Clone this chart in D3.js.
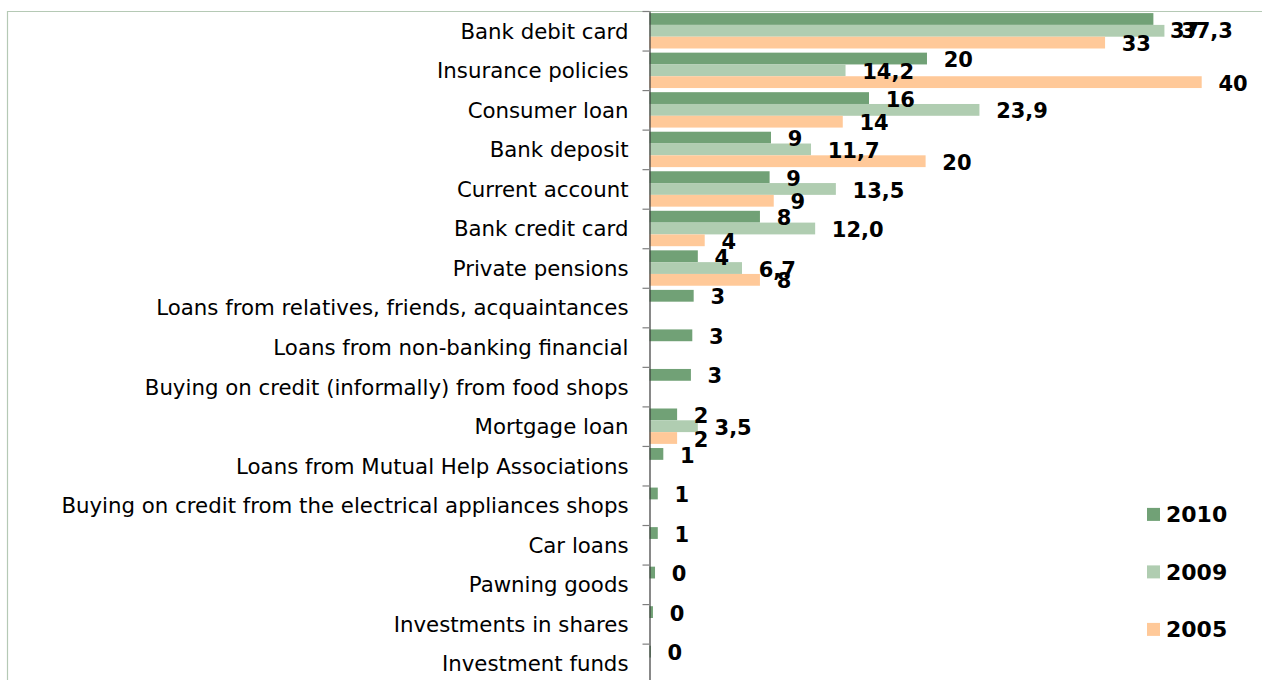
<!DOCTYPE html>
<html>
<head>
<meta charset="utf-8">
<script src="https://cdn.jsdelivr.net/npm/d3@7"></script>
<style>
  html, body { margin: 0; padding: 0; background: #ffffff; }
  svg { display: block; }
  text { font-family: "DejaVu Sans", Verdana, sans-serif; }
</style>
</head>
<body>
<svg id="chart" width="1262" height="680"></svg>
<script>
// Financial products used, by year (%)
const categories = [
  "Bank debit card",
  "Insurance policies",
  "Consumer loan",
  "Bank deposit",
  "Current account",
  "Bank credit card",
  "Private pensions",
  "Loans from relatives, friends, acquaintances",
  "Loans from non-banking financial",
  "Buying on credit (informally) from food shops",
  "Mortgage loan",
  "Loans from Mutual Help Associations",
  "Buying on credit from the electrical appliances shops",
  "Car loans",
  "Pawning goods",
  "Investments in shares",
  "Investment funds"
];
const seriesNames = ["2010", "2009", "2005"];
const values2010 = [36.5, 20.1, 15.9, 8.8, 8.7, 8.0, 3.5, 3.2, 3.1, 3.0, 2.0, 1.0, 0.6, 0.6, 0.4, 0.25, 0.1];
const values2009 = [37.3, 14.2, 23.9, 11.7, 13.5, 12.0, 6.7, null, null, null, 3.5, null, null, null, null, null, null];
const values2005 = [33, 40, 14, 20, 9, 4, 8, null, null, null, 2, null, null, null, null, null, null];

const colors = { "2010": "#71a176", "2009": "#b0cdb1", "2005": "#ffc999" };
const formats = {
  "2010": v => String(Math.round(v)),
  "2009": v => v.toFixed(1).replace(".", ","),
  "2005": v => String(Math.round(v))
};
const seriesValues = { "2010": values2010, "2009": values2009, "2005": values2005 };

const rows = [];
categories.forEach((c, i) => {
  seriesNames.forEach(s => {
    const v = seriesValues[s][i];
    if (v !== null) rows.push({ category: c, series: s, value: v });
  });
});

const svg = d3.select("#chart");

const plotTop = 11, step = 39.54;
const axisX = 649.5;

const x = d3.scaleLinear().domain([0, 40]).range([axisX, 1201.7]);
const y = d3.scaleBand().domain(categories).range([plotTop, plotTop + step * categories.length]).padding(0);
const yInner = d3.scaleBand().domain(seriesNames).range([2.1, 37.5]).padding(0);

// chart frame
svg.append("path")
  .attr("d", `M7.5,690 V${plotTop + 0.5} H1270`)
  .attr("fill", "none")
  .attr("stroke", "#b5c9b5")
  .attr("stroke-width", 1.2);

// bars
svg.append("g")
  .selectAll("rect")
  .data(rows)
  .join("rect")
  .attr("x", x(0))
  .attr("y", d => y(d.category) + yInner(d.series))
  .attr("width", d => x(d.value) - x(0))
  .attr("height", yInner.bandwidth())
  .attr("fill", d => colors[d.series]);

// value labels
const nudge = { "Bank debit card|2010": 10.5, "Bank debit card|2009": -1 };
svg.append("g")
  .selectAll("text")
  .data(rows)
  .join("text")
  .attr("x", d => x(d.value) + 16.7)
  .attr("y", d => y(d.category) + yInner(d.series) + yInner.bandwidth() / 2 + (nudge[d.category + "|" + d.series] || 0) + 1)
  .attr("dy", "0.36em")
  .attr("font-size", 21)
  .attr("font-weight", "bold")
  .attr("fill", "#000")
  .text(d => formats[d.series](d.value));

// category axis: labels centred in each band
const axisLabels = svg.append("g")
  .attr("transform", `translate(${axisX},0)`)
  .call(d3.axisLeft(y).tickSize(0).tickPadding(21));
axisLabels.select(".domain").remove();
axisLabels.selectAll("text")
  .attr("font-size", 21.3)
  .attr("font-family", "'DejaVu Sans', Verdana, sans-serif")
  .attr("fill", "#000")
  .attr("dy", "0.37em");

// category axis: line and tick marks at band boundaries
const boundary = d3.scaleLinear().domain([0, categories.length]).range(y.range());
const axisLine = svg.append("g")
  .attr("transform", `translate(${axisX},0)`)
  .call(d3.axisLeft(boundary).tickValues(d3.range(0, categories.length + 1)).tickSize(7).tickSizeOuter(0).tickFormat(""));
axisLine.select(".domain").attr("stroke", "#3a3a3a").attr("stroke-width", 1.2);
axisLine.selectAll(".tick line").attr("stroke", "#7f7f7f").attr("stroke-width", 1.2);

// legend
const legend = svg.append("g")
  .selectAll("g")
  .data(seriesNames)
  .join("g")
  .attr("transform", (d, i) => `translate(1147,${514.4 + i * 57.5})`);
legend.append("rect")
  .attr("x", 0).attr("y", -6.5)
  .attr("width", 13).attr("height", 13)
  .attr("fill", d => colors[d]);
legend.append("text")
  .attr("x", 19).attr("y", 0).attr("dy", "0.36em")
  .attr("font-size", 22)
  .attr("font-weight", "bold")
  .attr("fill", "#000")
  .text(d => d);
</script>
</body>
</html>
